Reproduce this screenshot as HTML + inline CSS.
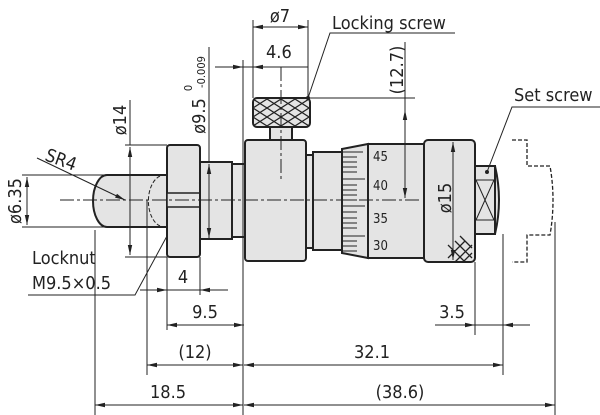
<!DOCTYPE html>
<html><head><meta charset="utf-8"><style>
html,body{margin:0;padding:0;background:#fff;}
svg{display:block;}
text{font-family:"DejaVu Sans Condensed","Liberation Sans Narrow","Liberation Sans",sans-serif;fill:#222;}
</style></head><body>
<svg width="600" height="415" viewBox="0 0 600 415" xmlns="http://www.w3.org/2000/svg">
<defs>
<marker id="a" viewBox="0 0 10 6" refX="10" refY="3" markerWidth="10" markerHeight="6" orient="auto-start-reverse" markerUnits="userSpaceOnUse"><path d="M0,0.8L10,3L0,5.2z" fill="#222"/></marker>
<pattern id="kn" x="253" y="99" width="14" height="9" patternUnits="userSpaceOnUse"><rect width="14" height="9" fill="#e4e4e4"/><path d="M0,0L14,9M14,0L0,9" stroke="#222" stroke-width="1.2"/></pattern>
</defs>
<g stroke="#222" fill="#e4e4e4" stroke-width="2">
<path d="M107,175 L167,175 L167,227 L107,227 A14,26 0 0 1 107,175 Z"/>
<rect x="167" y="145" width="33" height="112" rx="3"/>
<rect x="167" y="193" width="33" height="14" stroke-width="1.5"/>
<rect x="200" y="162" width="32" height="77"/>
<rect x="232" y="164" width="13" height="73"/>
<rect x="245" y="140" width="61" height="121" rx="3"/>
<rect x="306" y="155" width="7" height="93"/>
<rect x="313" y="152" width="29" height="98"/>
<path d="M342,149 L368,144 L368,258 L342,253 Z"/>
<rect x="368" y="144" width="56" height="114"/>
<rect x="424" y="140" width="51" height="122" rx="4"/>
<path d="M475,166 L495,166 Q503,200 495,234 L475,234 Z"/>
<rect x="475" y="166" width="20" height="68"/>
<rect x="270" y="126" width="22" height="14"/>
<rect x="253" y="98" width="57" height="29" rx="4" fill="url(#kn)"/>
</g>
<g stroke="#222" fill="none" stroke-width="1">
<path d="M160,176 A16,26 0 0 0 160,226" stroke-dasharray="4,2"/>
<path d="M343,152h20M343,157h14M343,162h14M343,167h14M343,172h14M343,179h22M343,185h14M343,190h14M343,195h14M343,200h14M343,206h22M343,212h14M343,218h14M343,223h14M343,228h14M343,236h22M343,241h14M343,246h14M343,251h14"/>
<path d="M476,180L494,220M494,180L476,220M475,180h20M475,220h20"/>
<path d="M455,262L472,245M463,262L472,253M448,258L465,241M455,241L472,258M448,245L465,262M460,236L472,248" stroke-width="1.3"/>
<path d="M512,140h15v26h23q6,34 0,69h-23v27h-15" stroke-dasharray="4,2" stroke-width="1.3"/>
<path d="M60,200H420" stroke-dasharray="14,3,3,3"/>
<path d="M281,67V180" stroke-dasharray="14,3,3,3"/>
<path d="M22,175H107M22,227H107"/>
<path d="M125,145H167M125,257H167"/>
<path d="M130,100V145M209,47V162M243,60V415"/>
<path d="M253,20V98M308,20V98"/>
<path d="M308,98H415M405,42V98"/>
<path d="M95,230V415M147,200V375M167,257V330M200,257V295M475,262V335M503,234V375M555,222V415"/>
<path d="M253,27H308" marker-start="url(#a)" marker-end="url(#a)"/>
<path d="M215,67H243" marker-end="url(#a)"/><path d="M243,67H253"/><path d="M308,67H253" marker-end="url(#a)"/>
<path d="M405,110V198" marker-start="url(#a)" marker-end="url(#a)"/>
<path d="M405,98V110"/>
<path d="M130,147V255" marker-start="url(#a)" marker-end="url(#a)"/>
<path d="M209,164V238" marker-start="url(#a)" marker-end="url(#a)"/>
<path d="M27,177V225" marker-start="url(#a)" marker-end="url(#a)"/>
<path d="M453,142V260" marker-start="url(#a)" marker-end="url(#a)"/>
<path d="M140,290H167" marker-end="url(#a)"/><path d="M228,290H200" marker-end="url(#a)"/><path d="M167,290H200"/>
<path d="M167,325H244" marker-start="url(#a)" marker-end="url(#a)"/>
<path d="M147,365H243" marker-start="url(#a)" marker-end="url(#a)"/>
<path d="M244,365H503" marker-start="url(#a)" marker-end="url(#a)"/>
<path d="M435,325H475" marker-end="url(#a)"/><path d="M530,325H503" marker-end="url(#a)"/><path d="M475,325H503"/>
<path d="M95,405H243" marker-start="url(#a)" marker-end="url(#a)"/>
<path d="M244,405H555" marker-start="url(#a)" marker-end="url(#a)"/>
<path d="M37,158L125,200" marker-end="url(#a)"/>
<path d="M308,98L330,33H455"/>
<path d="M487,172L512,107H600"/>
<path d="M167,236L135,295H28"/>
</g>
<circle cx="308" cy="98" r="2" fill="#222"/>
<circle cx="487" cy="172" r="2" fill="#222"/>
<g font-size="18">
<text x="280" y="22" text-anchor="middle">ø7</text>
<text x="266" y="58">4.6</text>
<text x="332" y="29">Locking screw</text>
<text x="514" y="101">Set screw</text>
<text x="44" y="160" transform="rotate(20 44 160)">SR4</text>
<text x="32" y="264">Locknut</text>
<text x="32" y="289">M9.5×0.5</text>
<text x="183" y="283" text-anchor="middle">4</text>
<text x="205" y="318" text-anchor="middle">9.5</text>
<text x="195" y="358" text-anchor="middle">(12)</text>
<text x="372" y="358" text-anchor="middle">32.1</text>
<text x="452" y="318" text-anchor="middle">3.5</text>
<text x="168" y="398" text-anchor="middle">18.5</text>
<text x="400" y="398" text-anchor="middle">(38.6)</text>
<text transform="translate(21,201) rotate(-90)" text-anchor="middle">ø6.35</text>
<text transform="translate(126,120) rotate(-90)" text-anchor="middle">ø14</text>
<text transform="translate(205,116) rotate(-90)" text-anchor="middle">ø9.5</text>
<text transform="translate(403,70) rotate(-90)" text-anchor="middle">(12.7)</text>
<text transform="translate(451,198) rotate(-90)" text-anchor="middle">ø15</text>
</g>
<g font-size="11">
<text transform="translate(205,72) rotate(-90)" text-anchor="middle">-0.009</text>
<text transform="translate(192,88) rotate(-90)" text-anchor="middle">0</text>
</g>
<g font-size="13">
<text x="373" y="161">45</text>
<text x="373" y="190">40</text>
<text x="373" y="223">35</text>
<text x="373" y="250">30</text>
</g>
</svg>
</body></html>
